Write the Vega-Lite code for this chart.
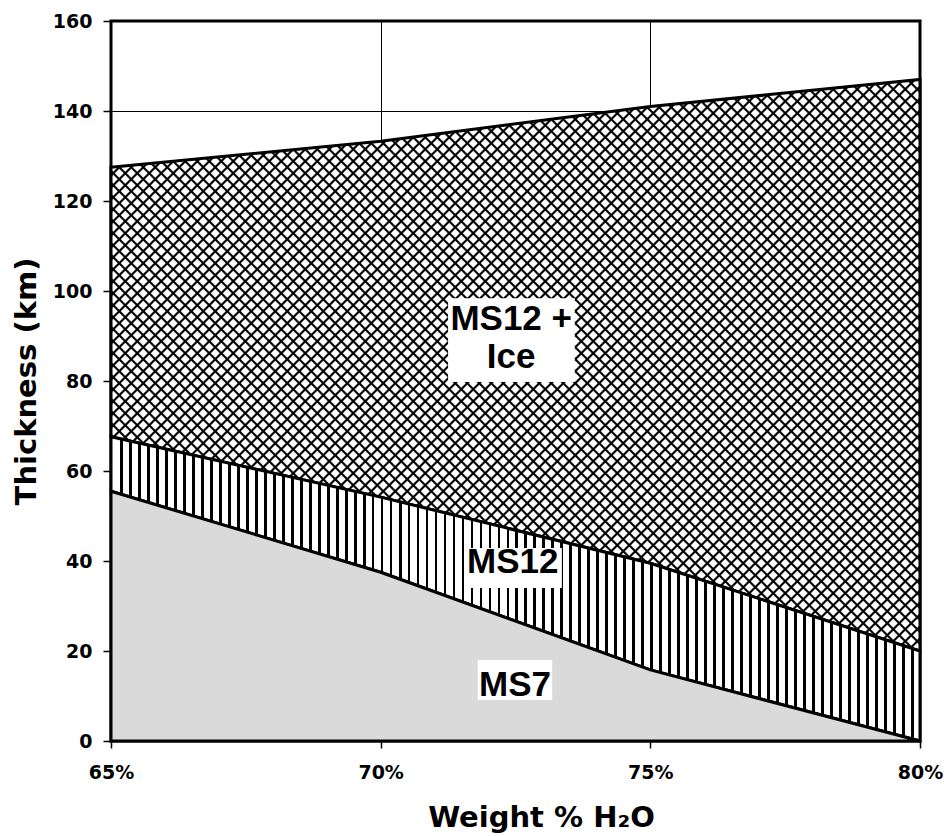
{
"$schema":"https://vega.github.io/schema/vega-lite/v6.json",
"width":809,"height":720,
"autosize":{"type":"none"},
"padding":{"left":111,"top":21,"right":24,"bottom":95},
"background":"white",
"config":{"view":{"stroke":"black","strokeWidth":3},
"axis":{"labelFont":"DejaVu Sans","labelFontSize":19,"labelFontWeight":"bold","labelColor":"black","titleFont":"DejaVu Sans","titleFontSize":29,"titleFontWeight":"bold","titleColor":"black","tickColor":"black","tickWidth":1.5,"gridColor":"black","gridWidth":1,"gridOpacity":1,"domain":false,"labelFlush":false,"labelOverlap":false,"labelBound":false}},
"datasets":{
"rows":[{"w":65,"ms7":55.5,"ms12":67.6,"total":127.5},{"w":70,"ms7":37.5,"ms12":54.2,"total":133.3},{"w":75,"ms7":15.8,"ms12":39.5,"total":141},{"w":80,"ms7":0,"ms12":20,"total":147}],
"boxes":[{"x1":71.25,"x2":73.6,"y1":79.8,"y2":98.4},{"x1":71.56,"x2":73.36,"y1":34,"y2":42.9},{"x1":71.8,"x2":73.18,"y1":9.1,"y2":18}],
"labels":[{"t":"MS12 +","x":72.42,"y":91.3},{"t":"Ice","x":72.42,"y":82.9},{"t":"MS12","x":72.45,"y":37.3},{"t":"MS7","x":72.49,"y":10}]
},
"layer":[
{"data":{"name":"rows"},
"mark":{"type":"area","strokeWidth":0,"fill":{"gradient":"linear","x1":0,"y1":0,"x2":1.2369,"y2":0.8738,"stops":[
{"offset":0.0065,"color":"#fff"},{"offset":0.0075,"color":"#000"},{"offset":0.0085,"color":"#000"},{"offset":0.0095,"color":"#fff"},
{"offset":0.0145,"color":"#fff"},{"offset":0.0155,"color":"#000"},{"offset":0.0165,"color":"#000"},{"offset":0.0175,"color":"#fff"},
{"offset":0.0225,"color":"#fff"},{"offset":0.0235,"color":"#000"},{"offset":0.0245,"color":"#000"},{"offset":0.0255,"color":"#fff"},
{"offset":0.0305,"color":"#fff"},{"offset":0.0315,"color":"#000"},{"offset":0.0325,"color":"#000"},{"offset":0.0335,"color":"#fff"},
{"offset":0.0385,"color":"#fff"},{"offset":0.0395,"color":"#000"},{"offset":0.0405,"color":"#000"},{"offset":0.0415,"color":"#fff"},
{"offset":0.0465,"color":"#fff"},{"offset":0.0475,"color":"#000"},{"offset":0.0485,"color":"#000"},{"offset":0.0495,"color":"#fff"},
{"offset":0.0545,"color":"#fff"},{"offset":0.0555,"color":"#000"},{"offset":0.0565,"color":"#000"},{"offset":0.0575,"color":"#fff"},
{"offset":0.0625,"color":"#fff"},{"offset":0.0635,"color":"#000"},{"offset":0.0645,"color":"#000"},{"offset":0.0655,"color":"#fff"},
{"offset":0.0705,"color":"#fff"},{"offset":0.0715,"color":"#000"},{"offset":0.0725,"color":"#000"},{"offset":0.0735,"color":"#fff"},
{"offset":0.0785,"color":"#fff"},{"offset":0.0795,"color":"#000"},{"offset":0.0805,"color":"#000"},{"offset":0.0815,"color":"#fff"},
{"offset":0.0865,"color":"#fff"},{"offset":0.0875,"color":"#000"},{"offset":0.0885,"color":"#000"},{"offset":0.0895,"color":"#fff"},
{"offset":0.0945,"color":"#fff"},{"offset":0.0955,"color":"#000"},{"offset":0.0965,"color":"#000"},{"offset":0.0975,"color":"#fff"},
{"offset":0.1025,"color":"#fff"},{"offset":0.1035,"color":"#000"},{"offset":0.1045,"color":"#000"},{"offset":0.1055,"color":"#fff"},
{"offset":0.1105,"color":"#fff"},{"offset":0.1115,"color":"#000"},{"offset":0.1125,"color":"#000"},{"offset":0.1135,"color":"#fff"},
{"offset":0.1185,"color":"#fff"},{"offset":0.1195,"color":"#000"},{"offset":0.1205,"color":"#000"},{"offset":0.1215,"color":"#fff"},
{"offset":0.1265,"color":"#fff"},{"offset":0.1275,"color":"#000"},{"offset":0.1285,"color":"#000"},{"offset":0.1295,"color":"#fff"},
{"offset":0.1345,"color":"#fff"},{"offset":0.1355,"color":"#000"},{"offset":0.1365,"color":"#000"},{"offset":0.1375,"color":"#fff"},
{"offset":0.1425,"color":"#fff"},{"offset":0.1435,"color":"#000"},{"offset":0.1445,"color":"#000"},{"offset":0.1455,"color":"#fff"},
{"offset":0.1505,"color":"#fff"},{"offset":0.1515,"color":"#000"},{"offset":0.1525,"color":"#000"},{"offset":0.1535,"color":"#fff"},
{"offset":0.1585,"color":"#fff"},{"offset":0.1595,"color":"#000"},{"offset":0.1605,"color":"#000"},{"offset":0.1615,"color":"#fff"},
{"offset":0.1665,"color":"#fff"},{"offset":0.1675,"color":"#000"},{"offset":0.1685,"color":"#000"},{"offset":0.1695,"color":"#fff"},
{"offset":0.1745,"color":"#fff"},{"offset":0.1755,"color":"#000"},{"offset":0.1765,"color":"#000"},{"offset":0.1775,"color":"#fff"},
{"offset":0.1825,"color":"#fff"},{"offset":0.1835,"color":"#000"},{"offset":0.1845,"color":"#000"},{"offset":0.1855,"color":"#fff"},
{"offset":0.1905,"color":"#fff"},{"offset":0.1915,"color":"#000"},{"offset":0.1925,"color":"#000"},{"offset":0.1935,"color":"#fff"},
{"offset":0.1985,"color":"#fff"},{"offset":0.1995,"color":"#000"},{"offset":0.2005,"color":"#000"},{"offset":0.2015,"color":"#fff"},
{"offset":0.2065,"color":"#fff"},{"offset":0.2075,"color":"#000"},{"offset":0.2085,"color":"#000"},{"offset":0.2095,"color":"#fff"},
{"offset":0.2145,"color":"#fff"},{"offset":0.2155,"color":"#000"},{"offset":0.2165,"color":"#000"},{"offset":0.2175,"color":"#fff"},
{"offset":0.2225,"color":"#fff"},{"offset":0.2235,"color":"#000"},{"offset":0.2245,"color":"#000"},{"offset":0.2255,"color":"#fff"},
{"offset":0.2305,"color":"#fff"},{"offset":0.2315,"color":"#000"},{"offset":0.2325,"color":"#000"},{"offset":0.2335,"color":"#fff"},
{"offset":0.2385,"color":"#fff"},{"offset":0.2395,"color":"#000"},{"offset":0.2405,"color":"#000"},{"offset":0.2415,"color":"#fff"},
{"offset":0.2465,"color":"#fff"},{"offset":0.2475,"color":"#000"},{"offset":0.2485,"color":"#000"},{"offset":0.2495,"color":"#fff"},
{"offset":0.2545,"color":"#fff"},{"offset":0.2555,"color":"#000"},{"offset":0.2565,"color":"#000"},{"offset":0.2575,"color":"#fff"},
{"offset":0.2625,"color":"#fff"},{"offset":0.2635,"color":"#000"},{"offset":0.2645,"color":"#000"},{"offset":0.2655,"color":"#fff"},
{"offset":0.2705,"color":"#fff"},{"offset":0.2715,"color":"#000"},{"offset":0.2725,"color":"#000"},{"offset":0.2735,"color":"#fff"},
{"offset":0.2785,"color":"#fff"},{"offset":0.2795,"color":"#000"},{"offset":0.2805,"color":"#000"},{"offset":0.2815,"color":"#fff"},
{"offset":0.2865,"color":"#fff"},{"offset":0.2875,"color":"#000"},{"offset":0.2885,"color":"#000"},{"offset":0.2895,"color":"#fff"},
{"offset":0.2945,"color":"#fff"},{"offset":0.2955,"color":"#000"},{"offset":0.2965,"color":"#000"},{"offset":0.2975,"color":"#fff"},
{"offset":0.3025,"color":"#fff"},{"offset":0.3035,"color":"#000"},{"offset":0.3045,"color":"#000"},{"offset":0.3055,"color":"#fff"},
{"offset":0.3105,"color":"#fff"},{"offset":0.3115,"color":"#000"},{"offset":0.3125,"color":"#000"},{"offset":0.3135,"color":"#fff"},
{"offset":0.3185,"color":"#fff"},{"offset":0.3195,"color":"#000"},{"offset":0.3205,"color":"#000"},{"offset":0.3215,"color":"#fff"},
{"offset":0.3265,"color":"#fff"},{"offset":0.3275,"color":"#000"},{"offset":0.3285,"color":"#000"},{"offset":0.3295,"color":"#fff"},
{"offset":0.3345,"color":"#fff"},{"offset":0.3355,"color":"#000"},{"offset":0.3365,"color":"#000"},{"offset":0.3375,"color":"#fff"},
{"offset":0.3425,"color":"#fff"},{"offset":0.3435,"color":"#000"},{"offset":0.3445,"color":"#000"},{"offset":0.3455,"color":"#fff"},
{"offset":0.3505,"color":"#fff"},{"offset":0.3515,"color":"#000"},{"offset":0.3525,"color":"#000"},{"offset":0.3535,"color":"#fff"},
{"offset":0.3585,"color":"#fff"},{"offset":0.3595,"color":"#000"},{"offset":0.3605,"color":"#000"},{"offset":0.3615,"color":"#fff"},
{"offset":0.3665,"color":"#fff"},{"offset":0.3675,"color":"#000"},{"offset":0.3685,"color":"#000"},{"offset":0.3695,"color":"#fff"},
{"offset":0.3745,"color":"#fff"},{"offset":0.3755,"color":"#000"},{"offset":0.3765,"color":"#000"},{"offset":0.3775,"color":"#fff"},
{"offset":0.3825,"color":"#fff"},{"offset":0.3835,"color":"#000"},{"offset":0.3845,"color":"#000"},{"offset":0.3855,"color":"#fff"},
{"offset":0.3905,"color":"#fff"},{"offset":0.3915,"color":"#000"},{"offset":0.3925,"color":"#000"},{"offset":0.3935,"color":"#fff"},
{"offset":0.3985,"color":"#fff"},{"offset":0.3995,"color":"#000"},{"offset":0.4005,"color":"#000"},{"offset":0.4015,"color":"#fff"},
{"offset":0.4065,"color":"#fff"},{"offset":0.4075,"color":"#000"},{"offset":0.4085,"color":"#000"},{"offset":0.4095,"color":"#fff"},
{"offset":0.4145,"color":"#fff"},{"offset":0.4155,"color":"#000"},{"offset":0.4165,"color":"#000"},{"offset":0.4175,"color":"#fff"},
{"offset":0.4225,"color":"#fff"},{"offset":0.4235,"color":"#000"},{"offset":0.4245,"color":"#000"},{"offset":0.4255,"color":"#fff"},
{"offset":0.4305,"color":"#fff"},{"offset":0.4315,"color":"#000"},{"offset":0.4325,"color":"#000"},{"offset":0.4335,"color":"#fff"},
{"offset":0.4385,"color":"#fff"},{"offset":0.4395,"color":"#000"},{"offset":0.4405,"color":"#000"},{"offset":0.4415,"color":"#fff"},
{"offset":0.4465,"color":"#fff"},{"offset":0.4475,"color":"#000"},{"offset":0.4485,"color":"#000"},{"offset":0.4495,"color":"#fff"},
{"offset":0.4545,"color":"#fff"},{"offset":0.4555,"color":"#000"},{"offset":0.4565,"color":"#000"},{"offset":0.4575,"color":"#fff"},
{"offset":0.4625,"color":"#fff"},{"offset":0.4635,"color":"#000"},{"offset":0.4645,"color":"#000"},{"offset":0.4655,"color":"#fff"},
{"offset":0.4705,"color":"#fff"},{"offset":0.4715,"color":"#000"},{"offset":0.4725,"color":"#000"},{"offset":0.4735,"color":"#fff"},
{"offset":0.4785,"color":"#fff"},{"offset":0.4795,"color":"#000"},{"offset":0.4805,"color":"#000"},{"offset":0.4815,"color":"#fff"},
{"offset":0.4865,"color":"#fff"},{"offset":0.4875,"color":"#000"},{"offset":0.4885,"color":"#000"},{"offset":0.4895,"color":"#fff"},
{"offset":0.4945,"color":"#fff"},{"offset":0.4955,"color":"#000"},{"offset":0.4965,"color":"#000"},{"offset":0.4975,"color":"#fff"},
{"offset":0.5025,"color":"#fff"},{"offset":0.5035,"color":"#000"},{"offset":0.5045,"color":"#000"},{"offset":0.5055,"color":"#fff"},
{"offset":0.5105,"color":"#fff"},{"offset":0.5115,"color":"#000"},{"offset":0.5125,"color":"#000"},{"offset":0.5135,"color":"#fff"},
{"offset":0.5185,"color":"#fff"},{"offset":0.5195,"color":"#000"},{"offset":0.5205,"color":"#000"},{"offset":0.5215,"color":"#fff"},
{"offset":0.5265,"color":"#fff"},{"offset":0.5275,"color":"#000"},{"offset":0.5285,"color":"#000"},{"offset":0.5295,"color":"#fff"},
{"offset":0.5345,"color":"#fff"},{"offset":0.5355,"color":"#000"},{"offset":0.5365,"color":"#000"},{"offset":0.5375,"color":"#fff"},
{"offset":0.5425,"color":"#fff"},{"offset":0.5435,"color":"#000"},{"offset":0.5445,"color":"#000"},{"offset":0.5455,"color":"#fff"},
{"offset":0.5505,"color":"#fff"},{"offset":0.5515,"color":"#000"},{"offset":0.5525,"color":"#000"},{"offset":0.5535,"color":"#fff"},
{"offset":0.5585,"color":"#fff"},{"offset":0.5595,"color":"#000"},{"offset":0.5605,"color":"#000"},{"offset":0.5615,"color":"#fff"},
{"offset":0.5665,"color":"#fff"},{"offset":0.5675,"color":"#000"},{"offset":0.5685,"color":"#000"},{"offset":0.5695,"color":"#fff"},
{"offset":0.5745,"color":"#fff"},{"offset":0.5755,"color":"#000"},{"offset":0.5765,"color":"#000"},{"offset":0.5775,"color":"#fff"},
{"offset":0.5825,"color":"#fff"},{"offset":0.5835,"color":"#000"},{"offset":0.5845,"color":"#000"},{"offset":0.5855,"color":"#fff"},
{"offset":0.5905,"color":"#fff"},{"offset":0.5915,"color":"#000"},{"offset":0.5925,"color":"#000"},{"offset":0.5935,"color":"#fff"},
{"offset":0.5985,"color":"#fff"},{"offset":0.5995,"color":"#000"},{"offset":0.6005,"color":"#000"},{"offset":0.6015,"color":"#fff"},
{"offset":0.6065,"color":"#fff"},{"offset":0.6075,"color":"#000"},{"offset":0.6085,"color":"#000"},{"offset":0.6095,"color":"#fff"},
{"offset":0.6145,"color":"#fff"},{"offset":0.6155,"color":"#000"},{"offset":0.6165,"color":"#000"},{"offset":0.6175,"color":"#fff"},
{"offset":0.6225,"color":"#fff"},{"offset":0.6235,"color":"#000"},{"offset":0.6245,"color":"#000"},{"offset":0.6255,"color":"#fff"},
{"offset":0.6305,"color":"#fff"},{"offset":0.6315,"color":"#000"},{"offset":0.6325,"color":"#000"},{"offset":0.6335,"color":"#fff"},
{"offset":0.6385,"color":"#fff"},{"offset":0.6395,"color":"#000"},{"offset":0.6405,"color":"#000"},{"offset":0.6415,"color":"#fff"},
{"offset":0.6465,"color":"#fff"},{"offset":0.6475,"color":"#000"},{"offset":0.6485,"color":"#000"},{"offset":0.6495,"color":"#fff"},
{"offset":0.6545,"color":"#fff"},{"offset":0.6555,"color":"#000"},{"offset":0.6565,"color":"#000"},{"offset":0.6575,"color":"#fff"},
{"offset":0.6625,"color":"#fff"},{"offset":0.6635,"color":"#000"},{"offset":0.6645,"color":"#000"},{"offset":0.6655,"color":"#fff"},
{"offset":0.6705,"color":"#fff"},{"offset":0.6715,"color":"#000"},{"offset":0.6725,"color":"#000"},{"offset":0.6735,"color":"#fff"},
{"offset":0.6785,"color":"#fff"},{"offset":0.6795,"color":"#000"},{"offset":0.6805,"color":"#000"},{"offset":0.6815,"color":"#fff"},
{"offset":0.6865,"color":"#fff"},{"offset":0.6875,"color":"#000"},{"offset":0.6885,"color":"#000"},{"offset":0.6895,"color":"#fff"},
{"offset":0.6945,"color":"#fff"},{"offset":0.6955,"color":"#000"},{"offset":0.6965,"color":"#000"},{"offset":0.6975,"color":"#fff"},
{"offset":0.7025,"color":"#fff"},{"offset":0.7035,"color":"#000"},{"offset":0.7045,"color":"#000"},{"offset":0.7055,"color":"#fff"},
{"offset":0.7105,"color":"#fff"},{"offset":0.7115,"color":"#000"},{"offset":0.7125,"color":"#000"},{"offset":0.7135,"color":"#fff"},
{"offset":0.7185,"color":"#fff"},{"offset":0.7195,"color":"#000"},{"offset":0.7205,"color":"#000"},{"offset":0.7215,"color":"#fff"},
{"offset":0.7265,"color":"#fff"},{"offset":0.7275,"color":"#000"},{"offset":0.7285,"color":"#000"},{"offset":0.7295,"color":"#fff"},
{"offset":0.7345,"color":"#fff"},{"offset":0.7355,"color":"#000"},{"offset":0.7365,"color":"#000"},{"offset":0.7375,"color":"#fff"},
{"offset":0.7425,"color":"#fff"},{"offset":0.7435,"color":"#000"},{"offset":0.7445,"color":"#000"},{"offset":0.7455,"color":"#fff"},
{"offset":0.7505,"color":"#fff"},{"offset":0.7515,"color":"#000"},{"offset":0.7525,"color":"#000"},{"offset":0.7535,"color":"#fff"},
{"offset":0.7585,"color":"#fff"},{"offset":0.7595,"color":"#000"},{"offset":0.7605,"color":"#000"},{"offset":0.7615,"color":"#fff"},
{"offset":0.7665,"color":"#fff"},{"offset":0.7675,"color":"#000"},{"offset":0.7685,"color":"#000"},{"offset":0.7695,"color":"#fff"},
{"offset":0.7745,"color":"#fff"},{"offset":0.7755,"color":"#000"},{"offset":0.7765,"color":"#000"},{"offset":0.7775,"color":"#fff"},
{"offset":0.7825,"color":"#fff"},{"offset":0.7835,"color":"#000"},{"offset":0.7845,"color":"#000"},{"offset":0.7855,"color":"#fff"},
{"offset":0.7905,"color":"#fff"},{"offset":0.7915,"color":"#000"},{"offset":0.7925,"color":"#000"},{"offset":0.7935,"color":"#fff"},
{"offset":0.7985,"color":"#fff"},{"offset":0.7995,"color":"#000"},{"offset":0.8005,"color":"#000"},{"offset":0.8015,"color":"#fff"},
{"offset":0.8065,"color":"#fff"},{"offset":0.8075,"color":"#000"},{"offset":0.8085,"color":"#000"},{"offset":0.8095,"color":"#fff"},
{"offset":0.8145,"color":"#fff"},{"offset":0.8155,"color":"#000"},{"offset":0.8165,"color":"#000"},{"offset":0.8175,"color":"#fff"},
{"offset":0.8225,"color":"#fff"},{"offset":0.8235,"color":"#000"},{"offset":0.8245,"color":"#000"},{"offset":0.8255,"color":"#fff"},
{"offset":0.8305,"color":"#fff"},{"offset":0.8315,"color":"#000"},{"offset":0.8325,"color":"#000"},{"offset":0.8335,"color":"#fff"},
{"offset":0.8385,"color":"#fff"},{"offset":0.8395,"color":"#000"},{"offset":0.8405,"color":"#000"},{"offset":0.8415,"color":"#fff"},
{"offset":0.8465,"color":"#fff"},{"offset":0.8475,"color":"#000"},{"offset":0.8485,"color":"#000"},{"offset":0.8495,"color":"#fff"},
{"offset":0.8545,"color":"#fff"},{"offset":0.8555,"color":"#000"},{"offset":0.8565,"color":"#000"},{"offset":0.8575,"color":"#fff"},
{"offset":0.8625,"color":"#fff"},{"offset":0.8635,"color":"#000"},{"offset":0.8645,"color":"#000"},{"offset":0.8655,"color":"#fff"},
{"offset":0.8705,"color":"#fff"},{"offset":0.8715,"color":"#000"},{"offset":0.8725,"color":"#000"},{"offset":0.8735,"color":"#fff"},
{"offset":0.8785,"color":"#fff"},{"offset":0.8795,"color":"#000"},{"offset":0.8805,"color":"#000"},{"offset":0.8815,"color":"#fff"},
{"offset":0.8865,"color":"#fff"},{"offset":0.8875,"color":"#000"},{"offset":0.8885,"color":"#000"},{"offset":0.8895,"color":"#fff"},
{"offset":0.8945,"color":"#fff"},{"offset":0.8955,"color":"#000"},{"offset":0.8965,"color":"#000"},{"offset":0.8975,"color":"#fff"},
{"offset":0.9025,"color":"#fff"},{"offset":0.9035,"color":"#000"},{"offset":0.9045,"color":"#000"},{"offset":0.9055,"color":"#fff"},
{"offset":0.9105,"color":"#fff"},{"offset":0.9115,"color":"#000"},{"offset":0.9125,"color":"#000"},{"offset":0.9135,"color":"#fff"},
{"offset":0.9185,"color":"#fff"},{"offset":0.9195,"color":"#000"},{"offset":0.9205,"color":"#000"},{"offset":0.9215,"color":"#fff"}
]}},
"encoding":{
"x":{"field":"w","type":"quantitative","scale":{"domain":[65,80],"nice":false,"zero":false},
"axis":{"values":[65,70,75,80],"labelExpr":"datum.value + '%'","title":"Weight % H₂O","grid":true,"tickSize":7,"labelPadding":15,"titleX":430,"titleY":85,"titleBaseline":"alphabetic","titleAlign":"center"}},
"y":{"field":"total","type":"quantitative","scale":{"domain":[0,160],"nice":false},
"axis":{"values":[0,20,40,60,80,100,120,140,160],"title":"Thickness (km)","grid":true,"tickSize":8,"labelPadding":11,"titleX":-76,"titleY":360,"titleAngle":-90,"titleBaseline":"alphabetic","titleAlign":"center"}},
"y2":{"field":"ms12"}}},
{"data":{"name":"rows"},
"mark":{"type":"area","stroke":"black","strokeWidth":3,"fill":{"gradient":"linear","x1":0,"y1":1,"x2":1.2369,"y2":0.1262,"stops":[
{"offset":0.0065,"color":"transparent"},{"offset":0.0075,"color":"#000"},{"offset":0.0085,"color":"#000"},{"offset":0.0095,"color":"transparent"},
{"offset":0.0145,"color":"transparent"},{"offset":0.0155,"color":"#000"},{"offset":0.0165,"color":"#000"},{"offset":0.0175,"color":"transparent"},
{"offset":0.0225,"color":"transparent"},{"offset":0.0235,"color":"#000"},{"offset":0.0245,"color":"#000"},{"offset":0.0255,"color":"transparent"},
{"offset":0.0305,"color":"transparent"},{"offset":0.0315,"color":"#000"},{"offset":0.0325,"color":"#000"},{"offset":0.0335,"color":"transparent"},
{"offset":0.0385,"color":"transparent"},{"offset":0.0395,"color":"#000"},{"offset":0.0405,"color":"#000"},{"offset":0.0415,"color":"transparent"},
{"offset":0.0465,"color":"transparent"},{"offset":0.0475,"color":"#000"},{"offset":0.0485,"color":"#000"},{"offset":0.0495,"color":"transparent"},
{"offset":0.0545,"color":"transparent"},{"offset":0.0555,"color":"#000"},{"offset":0.0565,"color":"#000"},{"offset":0.0575,"color":"transparent"},
{"offset":0.0625,"color":"transparent"},{"offset":0.0635,"color":"#000"},{"offset":0.0645,"color":"#000"},{"offset":0.0655,"color":"transparent"},
{"offset":0.0705,"color":"transparent"},{"offset":0.0715,"color":"#000"},{"offset":0.0725,"color":"#000"},{"offset":0.0735,"color":"transparent"},
{"offset":0.0785,"color":"transparent"},{"offset":0.0795,"color":"#000"},{"offset":0.0805,"color":"#000"},{"offset":0.0815,"color":"transparent"},
{"offset":0.0865,"color":"transparent"},{"offset":0.0875,"color":"#000"},{"offset":0.0885,"color":"#000"},{"offset":0.0895,"color":"transparent"},
{"offset":0.0945,"color":"transparent"},{"offset":0.0955,"color":"#000"},{"offset":0.0965,"color":"#000"},{"offset":0.0975,"color":"transparent"},
{"offset":0.1025,"color":"transparent"},{"offset":0.1035,"color":"#000"},{"offset":0.1045,"color":"#000"},{"offset":0.1055,"color":"transparent"},
{"offset":0.1105,"color":"transparent"},{"offset":0.1115,"color":"#000"},{"offset":0.1125,"color":"#000"},{"offset":0.1135,"color":"transparent"},
{"offset":0.1185,"color":"transparent"},{"offset":0.1195,"color":"#000"},{"offset":0.1205,"color":"#000"},{"offset":0.1215,"color":"transparent"},
{"offset":0.1265,"color":"transparent"},{"offset":0.1275,"color":"#000"},{"offset":0.1285,"color":"#000"},{"offset":0.1295,"color":"transparent"},
{"offset":0.1345,"color":"transparent"},{"offset":0.1355,"color":"#000"},{"offset":0.1365,"color":"#000"},{"offset":0.1375,"color":"transparent"},
{"offset":0.1425,"color":"transparent"},{"offset":0.1435,"color":"#000"},{"offset":0.1445,"color":"#000"},{"offset":0.1455,"color":"transparent"},
{"offset":0.1505,"color":"transparent"},{"offset":0.1515,"color":"#000"},{"offset":0.1525,"color":"#000"},{"offset":0.1535,"color":"transparent"},
{"offset":0.1585,"color":"transparent"},{"offset":0.1595,"color":"#000"},{"offset":0.1605,"color":"#000"},{"offset":0.1615,"color":"transparent"},
{"offset":0.1665,"color":"transparent"},{"offset":0.1675,"color":"#000"},{"offset":0.1685,"color":"#000"},{"offset":0.1695,"color":"transparent"},
{"offset":0.1745,"color":"transparent"},{"offset":0.1755,"color":"#000"},{"offset":0.1765,"color":"#000"},{"offset":0.1775,"color":"transparent"},
{"offset":0.1825,"color":"transparent"},{"offset":0.1835,"color":"#000"},{"offset":0.1845,"color":"#000"},{"offset":0.1855,"color":"transparent"},
{"offset":0.1905,"color":"transparent"},{"offset":0.1915,"color":"#000"},{"offset":0.1925,"color":"#000"},{"offset":0.1935,"color":"transparent"},
{"offset":0.1985,"color":"transparent"},{"offset":0.1995,"color":"#000"},{"offset":0.2005,"color":"#000"},{"offset":0.2015,"color":"transparent"},
{"offset":0.2065,"color":"transparent"},{"offset":0.2075,"color":"#000"},{"offset":0.2085,"color":"#000"},{"offset":0.2095,"color":"transparent"},
{"offset":0.2145,"color":"transparent"},{"offset":0.2155,"color":"#000"},{"offset":0.2165,"color":"#000"},{"offset":0.2175,"color":"transparent"},
{"offset":0.2225,"color":"transparent"},{"offset":0.2235,"color":"#000"},{"offset":0.2245,"color":"#000"},{"offset":0.2255,"color":"transparent"},
{"offset":0.2305,"color":"transparent"},{"offset":0.2315,"color":"#000"},{"offset":0.2325,"color":"#000"},{"offset":0.2335,"color":"transparent"},
{"offset":0.2385,"color":"transparent"},{"offset":0.2395,"color":"#000"},{"offset":0.2405,"color":"#000"},{"offset":0.2415,"color":"transparent"},
{"offset":0.2465,"color":"transparent"},{"offset":0.2475,"color":"#000"},{"offset":0.2485,"color":"#000"},{"offset":0.2495,"color":"transparent"},
{"offset":0.2545,"color":"transparent"},{"offset":0.2555,"color":"#000"},{"offset":0.2565,"color":"#000"},{"offset":0.2575,"color":"transparent"},
{"offset":0.2625,"color":"transparent"},{"offset":0.2635,"color":"#000"},{"offset":0.2645,"color":"#000"},{"offset":0.2655,"color":"transparent"},
{"offset":0.2705,"color":"transparent"},{"offset":0.2715,"color":"#000"},{"offset":0.2725,"color":"#000"},{"offset":0.2735,"color":"transparent"},
{"offset":0.2785,"color":"transparent"},{"offset":0.2795,"color":"#000"},{"offset":0.2805,"color":"#000"},{"offset":0.2815,"color":"transparent"},
{"offset":0.2865,"color":"transparent"},{"offset":0.2875,"color":"#000"},{"offset":0.2885,"color":"#000"},{"offset":0.2895,"color":"transparent"},
{"offset":0.2945,"color":"transparent"},{"offset":0.2955,"color":"#000"},{"offset":0.2965,"color":"#000"},{"offset":0.2975,"color":"transparent"},
{"offset":0.3025,"color":"transparent"},{"offset":0.3035,"color":"#000"},{"offset":0.3045,"color":"#000"},{"offset":0.3055,"color":"transparent"},
{"offset":0.3105,"color":"transparent"},{"offset":0.3115,"color":"#000"},{"offset":0.3125,"color":"#000"},{"offset":0.3135,"color":"transparent"},
{"offset":0.3185,"color":"transparent"},{"offset":0.3195,"color":"#000"},{"offset":0.3205,"color":"#000"},{"offset":0.3215,"color":"transparent"},
{"offset":0.3265,"color":"transparent"},{"offset":0.3275,"color":"#000"},{"offset":0.3285,"color":"#000"},{"offset":0.3295,"color":"transparent"},
{"offset":0.3345,"color":"transparent"},{"offset":0.3355,"color":"#000"},{"offset":0.3365,"color":"#000"},{"offset":0.3375,"color":"transparent"},
{"offset":0.3425,"color":"transparent"},{"offset":0.3435,"color":"#000"},{"offset":0.3445,"color":"#000"},{"offset":0.3455,"color":"transparent"},
{"offset":0.3505,"color":"transparent"},{"offset":0.3515,"color":"#000"},{"offset":0.3525,"color":"#000"},{"offset":0.3535,"color":"transparent"},
{"offset":0.3585,"color":"transparent"},{"offset":0.3595,"color":"#000"},{"offset":0.3605,"color":"#000"},{"offset":0.3615,"color":"transparent"},
{"offset":0.3665,"color":"transparent"},{"offset":0.3675,"color":"#000"},{"offset":0.3685,"color":"#000"},{"offset":0.3695,"color":"transparent"},
{"offset":0.3745,"color":"transparent"},{"offset":0.3755,"color":"#000"},{"offset":0.3765,"color":"#000"},{"offset":0.3775,"color":"transparent"},
{"offset":0.3825,"color":"transparent"},{"offset":0.3835,"color":"#000"},{"offset":0.3845,"color":"#000"},{"offset":0.3855,"color":"transparent"},
{"offset":0.3905,"color":"transparent"},{"offset":0.3915,"color":"#000"},{"offset":0.3925,"color":"#000"},{"offset":0.3935,"color":"transparent"},
{"offset":0.3985,"color":"transparent"},{"offset":0.3995,"color":"#000"},{"offset":0.4005,"color":"#000"},{"offset":0.4015,"color":"transparent"},
{"offset":0.4065,"color":"transparent"},{"offset":0.4075,"color":"#000"},{"offset":0.4085,"color":"#000"},{"offset":0.4095,"color":"transparent"},
{"offset":0.4145,"color":"transparent"},{"offset":0.4155,"color":"#000"},{"offset":0.4165,"color":"#000"},{"offset":0.4175,"color":"transparent"},
{"offset":0.4225,"color":"transparent"},{"offset":0.4235,"color":"#000"},{"offset":0.4245,"color":"#000"},{"offset":0.4255,"color":"transparent"},
{"offset":0.4305,"color":"transparent"},{"offset":0.4315,"color":"#000"},{"offset":0.4325,"color":"#000"},{"offset":0.4335,"color":"transparent"},
{"offset":0.4385,"color":"transparent"},{"offset":0.4395,"color":"#000"},{"offset":0.4405,"color":"#000"},{"offset":0.4415,"color":"transparent"},
{"offset":0.4465,"color":"transparent"},{"offset":0.4475,"color":"#000"},{"offset":0.4485,"color":"#000"},{"offset":0.4495,"color":"transparent"},
{"offset":0.4545,"color":"transparent"},{"offset":0.4555,"color":"#000"},{"offset":0.4565,"color":"#000"},{"offset":0.4575,"color":"transparent"},
{"offset":0.4625,"color":"transparent"},{"offset":0.4635,"color":"#000"},{"offset":0.4645,"color":"#000"},{"offset":0.4655,"color":"transparent"},
{"offset":0.4705,"color":"transparent"},{"offset":0.4715,"color":"#000"},{"offset":0.4725,"color":"#000"},{"offset":0.4735,"color":"transparent"},
{"offset":0.4785,"color":"transparent"},{"offset":0.4795,"color":"#000"},{"offset":0.4805,"color":"#000"},{"offset":0.4815,"color":"transparent"},
{"offset":0.4865,"color":"transparent"},{"offset":0.4875,"color":"#000"},{"offset":0.4885,"color":"#000"},{"offset":0.4895,"color":"transparent"},
{"offset":0.4945,"color":"transparent"},{"offset":0.4955,"color":"#000"},{"offset":0.4965,"color":"#000"},{"offset":0.4975,"color":"transparent"},
{"offset":0.5025,"color":"transparent"},{"offset":0.5035,"color":"#000"},{"offset":0.5045,"color":"#000"},{"offset":0.5055,"color":"transparent"},
{"offset":0.5105,"color":"transparent"},{"offset":0.5115,"color":"#000"},{"offset":0.5125,"color":"#000"},{"offset":0.5135,"color":"transparent"},
{"offset":0.5185,"color":"transparent"},{"offset":0.5195,"color":"#000"},{"offset":0.5205,"color":"#000"},{"offset":0.5215,"color":"transparent"},
{"offset":0.5265,"color":"transparent"},{"offset":0.5275,"color":"#000"},{"offset":0.5285,"color":"#000"},{"offset":0.5295,"color":"transparent"},
{"offset":0.5345,"color":"transparent"},{"offset":0.5355,"color":"#000"},{"offset":0.5365,"color":"#000"},{"offset":0.5375,"color":"transparent"},
{"offset":0.5425,"color":"transparent"},{"offset":0.5435,"color":"#000"},{"offset":0.5445,"color":"#000"},{"offset":0.5455,"color":"transparent"},
{"offset":0.5505,"color":"transparent"},{"offset":0.5515,"color":"#000"},{"offset":0.5525,"color":"#000"},{"offset":0.5535,"color":"transparent"},
{"offset":0.5585,"color":"transparent"},{"offset":0.5595,"color":"#000"},{"offset":0.5605,"color":"#000"},{"offset":0.5615,"color":"transparent"},
{"offset":0.5665,"color":"transparent"},{"offset":0.5675,"color":"#000"},{"offset":0.5685,"color":"#000"},{"offset":0.5695,"color":"transparent"},
{"offset":0.5745,"color":"transparent"},{"offset":0.5755,"color":"#000"},{"offset":0.5765,"color":"#000"},{"offset":0.5775,"color":"transparent"},
{"offset":0.5825,"color":"transparent"},{"offset":0.5835,"color":"#000"},{"offset":0.5845,"color":"#000"},{"offset":0.5855,"color":"transparent"},
{"offset":0.5905,"color":"transparent"},{"offset":0.5915,"color":"#000"},{"offset":0.5925,"color":"#000"},{"offset":0.5935,"color":"transparent"},
{"offset":0.5985,"color":"transparent"},{"offset":0.5995,"color":"#000"},{"offset":0.6005,"color":"#000"},{"offset":0.6015,"color":"transparent"},
{"offset":0.6065,"color":"transparent"},{"offset":0.6075,"color":"#000"},{"offset":0.6085,"color":"#000"},{"offset":0.6095,"color":"transparent"},
{"offset":0.6145,"color":"transparent"},{"offset":0.6155,"color":"#000"},{"offset":0.6165,"color":"#000"},{"offset":0.6175,"color":"transparent"},
{"offset":0.6225,"color":"transparent"},{"offset":0.6235,"color":"#000"},{"offset":0.6245,"color":"#000"},{"offset":0.6255,"color":"transparent"},
{"offset":0.6305,"color":"transparent"},{"offset":0.6315,"color":"#000"},{"offset":0.6325,"color":"#000"},{"offset":0.6335,"color":"transparent"},
{"offset":0.6385,"color":"transparent"},{"offset":0.6395,"color":"#000"},{"offset":0.6405,"color":"#000"},{"offset":0.6415,"color":"transparent"},
{"offset":0.6465,"color":"transparent"},{"offset":0.6475,"color":"#000"},{"offset":0.6485,"color":"#000"},{"offset":0.6495,"color":"transparent"},
{"offset":0.6545,"color":"transparent"},{"offset":0.6555,"color":"#000"},{"offset":0.6565,"color":"#000"},{"offset":0.6575,"color":"transparent"},
{"offset":0.6625,"color":"transparent"},{"offset":0.6635,"color":"#000"},{"offset":0.6645,"color":"#000"},{"offset":0.6655,"color":"transparent"},
{"offset":0.6705,"color":"transparent"},{"offset":0.6715,"color":"#000"},{"offset":0.6725,"color":"#000"},{"offset":0.6735,"color":"transparent"},
{"offset":0.6785,"color":"transparent"},{"offset":0.6795,"color":"#000"},{"offset":0.6805,"color":"#000"},{"offset":0.6815,"color":"transparent"},
{"offset":0.6865,"color":"transparent"},{"offset":0.6875,"color":"#000"},{"offset":0.6885,"color":"#000"},{"offset":0.6895,"color":"transparent"},
{"offset":0.6945,"color":"transparent"},{"offset":0.6955,"color":"#000"},{"offset":0.6965,"color":"#000"},{"offset":0.6975,"color":"transparent"},
{"offset":0.7025,"color":"transparent"},{"offset":0.7035,"color":"#000"},{"offset":0.7045,"color":"#000"},{"offset":0.7055,"color":"transparent"},
{"offset":0.7105,"color":"transparent"},{"offset":0.7115,"color":"#000"},{"offset":0.7125,"color":"#000"},{"offset":0.7135,"color":"transparent"},
{"offset":0.7185,"color":"transparent"},{"offset":0.7195,"color":"#000"},{"offset":0.7205,"color":"#000"},{"offset":0.7215,"color":"transparent"},
{"offset":0.7265,"color":"transparent"},{"offset":0.7275,"color":"#000"},{"offset":0.7285,"color":"#000"},{"offset":0.7295,"color":"transparent"},
{"offset":0.7345,"color":"transparent"},{"offset":0.7355,"color":"#000"},{"offset":0.7365,"color":"#000"},{"offset":0.7375,"color":"transparent"},
{"offset":0.7425,"color":"transparent"},{"offset":0.7435,"color":"#000"},{"offset":0.7445,"color":"#000"},{"offset":0.7455,"color":"transparent"},
{"offset":0.7505,"color":"transparent"},{"offset":0.7515,"color":"#000"},{"offset":0.7525,"color":"#000"},{"offset":0.7535,"color":"transparent"},
{"offset":0.7585,"color":"transparent"},{"offset":0.7595,"color":"#000"},{"offset":0.7605,"color":"#000"},{"offset":0.7615,"color":"transparent"},
{"offset":0.7665,"color":"transparent"},{"offset":0.7675,"color":"#000"},{"offset":0.7685,"color":"#000"},{"offset":0.7695,"color":"transparent"},
{"offset":0.7745,"color":"transparent"},{"offset":0.7755,"color":"#000"},{"offset":0.7765,"color":"#000"},{"offset":0.7775,"color":"transparent"},
{"offset":0.7825,"color":"transparent"},{"offset":0.7835,"color":"#000"},{"offset":0.7845,"color":"#000"},{"offset":0.7855,"color":"transparent"},
{"offset":0.7905,"color":"transparent"},{"offset":0.7915,"color":"#000"},{"offset":0.7925,"color":"#000"},{"offset":0.7935,"color":"transparent"},
{"offset":0.7985,"color":"transparent"},{"offset":0.7995,"color":"#000"},{"offset":0.8005,"color":"#000"},{"offset":0.8015,"color":"transparent"},
{"offset":0.8065,"color":"transparent"},{"offset":0.8075,"color":"#000"},{"offset":0.8085,"color":"#000"},{"offset":0.8095,"color":"transparent"},
{"offset":0.8145,"color":"transparent"},{"offset":0.8155,"color":"#000"},{"offset":0.8165,"color":"#000"},{"offset":0.8175,"color":"transparent"},
{"offset":0.8225,"color":"transparent"},{"offset":0.8235,"color":"#000"},{"offset":0.8245,"color":"#000"},{"offset":0.8255,"color":"transparent"},
{"offset":0.8305,"color":"transparent"},{"offset":0.8315,"color":"#000"},{"offset":0.8325,"color":"#000"},{"offset":0.8335,"color":"transparent"},
{"offset":0.8385,"color":"transparent"},{"offset":0.8395,"color":"#000"},{"offset":0.8405,"color":"#000"},{"offset":0.8415,"color":"transparent"},
{"offset":0.8465,"color":"transparent"},{"offset":0.8475,"color":"#000"},{"offset":0.8485,"color":"#000"},{"offset":0.8495,"color":"transparent"},
{"offset":0.8545,"color":"transparent"},{"offset":0.8555,"color":"#000"},{"offset":0.8565,"color":"#000"},{"offset":0.8575,"color":"transparent"},
{"offset":0.8625,"color":"transparent"},{"offset":0.8635,"color":"#000"},{"offset":0.8645,"color":"#000"},{"offset":0.8655,"color":"transparent"},
{"offset":0.8705,"color":"transparent"},{"offset":0.8715,"color":"#000"},{"offset":0.8725,"color":"#000"},{"offset":0.8735,"color":"transparent"},
{"offset":0.8785,"color":"transparent"},{"offset":0.8795,"color":"#000"},{"offset":0.8805,"color":"#000"},{"offset":0.8815,"color":"transparent"},
{"offset":0.8865,"color":"transparent"},{"offset":0.8875,"color":"#000"},{"offset":0.8885,"color":"#000"},{"offset":0.8895,"color":"transparent"},
{"offset":0.8945,"color":"transparent"},{"offset":0.8955,"color":"#000"},{"offset":0.8965,"color":"#000"},{"offset":0.8975,"color":"transparent"},
{"offset":0.9025,"color":"transparent"},{"offset":0.9035,"color":"#000"},{"offset":0.9045,"color":"#000"},{"offset":0.9055,"color":"transparent"},
{"offset":0.9105,"color":"transparent"},{"offset":0.9115,"color":"#000"},{"offset":0.9125,"color":"#000"},{"offset":0.9135,"color":"transparent"},
{"offset":0.9185,"color":"transparent"},{"offset":0.9195,"color":"#000"},{"offset":0.9205,"color":"#000"},{"offset":0.9215,"color":"transparent"}
]}},
"encoding":{
"x":{"field":"w","type":"quantitative","scale":{"domain":[65,80],"nice":false,"zero":false}},
"y":{"field":"total","type":"quantitative","scale":{"domain":[0,160],"nice":false}},
"y2":{"field":"ms12"}}},
{"data":{"name":"rows"},
"mark":{"type":"area","stroke":"black","strokeWidth":3,"fill":{"gradient":"linear","x1":0,"y1":0,"x2":1,"y2":0,"stops":[
{"offset":0.0111,"color":"#fff"},{"offset":0.0111,"color":"#000"},{"offset":0.0146,"color":"#000"},{"offset":0.0146,"color":"#fff"},
{"offset":0.0222,"color":"#fff"},{"offset":0.0222,"color":"#000"},{"offset":0.0257,"color":"#000"},{"offset":0.0257,"color":"#fff"},
{"offset":0.0333,"color":"#fff"},{"offset":0.0333,"color":"#000"},{"offset":0.0368,"color":"#000"},{"offset":0.0368,"color":"#fff"},
{"offset":0.0444,"color":"#fff"},{"offset":0.0444,"color":"#000"},{"offset":0.0479,"color":"#000"},{"offset":0.0479,"color":"#fff"},
{"offset":0.0556,"color":"#fff"},{"offset":0.0556,"color":"#000"},{"offset":0.0591,"color":"#000"},{"offset":0.0591,"color":"#fff"},
{"offset":0.0667,"color":"#fff"},{"offset":0.0667,"color":"#000"},{"offset":0.0702,"color":"#000"},{"offset":0.0702,"color":"#fff"},
{"offset":0.0778,"color":"#fff"},{"offset":0.0778,"color":"#000"},{"offset":0.0813,"color":"#000"},{"offset":0.0813,"color":"#fff"},
{"offset":0.0889,"color":"#fff"},{"offset":0.0889,"color":"#000"},{"offset":0.0924,"color":"#000"},{"offset":0.0924,"color":"#fff"},
{"offset":0.1,"color":"#fff"},{"offset":0.1,"color":"#000"},{"offset":0.1035,"color":"#000"},{"offset":0.1035,"color":"#fff"},
{"offset":0.1111,"color":"#fff"},{"offset":0.1111,"color":"#000"},{"offset":0.1146,"color":"#000"},{"offset":0.1146,"color":"#fff"},
{"offset":0.1222,"color":"#fff"},{"offset":0.1222,"color":"#000"},{"offset":0.1257,"color":"#000"},{"offset":0.1257,"color":"#fff"},
{"offset":0.1333,"color":"#fff"},{"offset":0.1333,"color":"#000"},{"offset":0.1368,"color":"#000"},{"offset":0.1368,"color":"#fff"},
{"offset":0.1444,"color":"#fff"},{"offset":0.1444,"color":"#000"},{"offset":0.1479,"color":"#000"},{"offset":0.1479,"color":"#fff"},
{"offset":0.1556,"color":"#fff"},{"offset":0.1556,"color":"#000"},{"offset":0.1591,"color":"#000"},{"offset":0.1591,"color":"#fff"},
{"offset":0.1667,"color":"#fff"},{"offset":0.1667,"color":"#000"},{"offset":0.1702,"color":"#000"},{"offset":0.1702,"color":"#fff"},
{"offset":0.1778,"color":"#fff"},{"offset":0.1778,"color":"#000"},{"offset":0.1813,"color":"#000"},{"offset":0.1813,"color":"#fff"},
{"offset":0.1889,"color":"#fff"},{"offset":0.1889,"color":"#000"},{"offset":0.1924,"color":"#000"},{"offset":0.1924,"color":"#fff"},
{"offset":0.2,"color":"#fff"},{"offset":0.2,"color":"#000"},{"offset":0.2035,"color":"#000"},{"offset":0.2035,"color":"#fff"},
{"offset":0.2111,"color":"#fff"},{"offset":0.2111,"color":"#000"},{"offset":0.2146,"color":"#000"},{"offset":0.2146,"color":"#fff"},
{"offset":0.2222,"color":"#fff"},{"offset":0.2222,"color":"#000"},{"offset":0.2257,"color":"#000"},{"offset":0.2257,"color":"#fff"},
{"offset":0.2333,"color":"#fff"},{"offset":0.2333,"color":"#000"},{"offset":0.2368,"color":"#000"},{"offset":0.2368,"color":"#fff"},
{"offset":0.2444,"color":"#fff"},{"offset":0.2444,"color":"#000"},{"offset":0.2479,"color":"#000"},{"offset":0.2479,"color":"#fff"},
{"offset":0.2556,"color":"#fff"},{"offset":0.2556,"color":"#000"},{"offset":0.2591,"color":"#000"},{"offset":0.2591,"color":"#fff"},
{"offset":0.2667,"color":"#fff"},{"offset":0.2667,"color":"#000"},{"offset":0.2702,"color":"#000"},{"offset":0.2702,"color":"#fff"},
{"offset":0.2778,"color":"#fff"},{"offset":0.2778,"color":"#000"},{"offset":0.2813,"color":"#000"},{"offset":0.2813,"color":"#fff"},
{"offset":0.2889,"color":"#fff"},{"offset":0.2889,"color":"#000"},{"offset":0.2924,"color":"#000"},{"offset":0.2924,"color":"#fff"},
{"offset":0.3,"color":"#fff"},{"offset":0.3,"color":"#000"},{"offset":0.3035,"color":"#000"},{"offset":0.3035,"color":"#fff"},
{"offset":0.3111,"color":"#fff"},{"offset":0.3111,"color":"#000"},{"offset":0.3146,"color":"#000"},{"offset":0.3146,"color":"#fff"},
{"offset":0.3222,"color":"#fff"},{"offset":0.3222,"color":"#000"},{"offset":0.3257,"color":"#000"},{"offset":0.3257,"color":"#fff"},
{"offset":0.3333,"color":"#fff"},{"offset":0.3333,"color":"#000"},{"offset":0.3368,"color":"#000"},{"offset":0.3368,"color":"#fff"},
{"offset":0.3444,"color":"#fff"},{"offset":0.3444,"color":"#000"},{"offset":0.3479,"color":"#000"},{"offset":0.3479,"color":"#fff"},
{"offset":0.3556,"color":"#fff"},{"offset":0.3556,"color":"#000"},{"offset":0.3591,"color":"#000"},{"offset":0.3591,"color":"#fff"},
{"offset":0.3667,"color":"#fff"},{"offset":0.3667,"color":"#000"},{"offset":0.3702,"color":"#000"},{"offset":0.3702,"color":"#fff"},
{"offset":0.3778,"color":"#fff"},{"offset":0.3778,"color":"#000"},{"offset":0.3813,"color":"#000"},{"offset":0.3813,"color":"#fff"},
{"offset":0.3889,"color":"#fff"},{"offset":0.3889,"color":"#000"},{"offset":0.3924,"color":"#000"},{"offset":0.3924,"color":"#fff"},
{"offset":0.4,"color":"#fff"},{"offset":0.4,"color":"#000"},{"offset":0.4035,"color":"#000"},{"offset":0.4035,"color":"#fff"},
{"offset":0.4111,"color":"#fff"},{"offset":0.4111,"color":"#000"},{"offset":0.4146,"color":"#000"},{"offset":0.4146,"color":"#fff"},
{"offset":0.4222,"color":"#fff"},{"offset":0.4222,"color":"#000"},{"offset":0.4257,"color":"#000"},{"offset":0.4257,"color":"#fff"},
{"offset":0.4333,"color":"#fff"},{"offset":0.4333,"color":"#000"},{"offset":0.4368,"color":"#000"},{"offset":0.4368,"color":"#fff"},
{"offset":0.4444,"color":"#fff"},{"offset":0.4444,"color":"#000"},{"offset":0.4479,"color":"#000"},{"offset":0.4479,"color":"#fff"},
{"offset":0.4556,"color":"#fff"},{"offset":0.4556,"color":"#000"},{"offset":0.4591,"color":"#000"},{"offset":0.4591,"color":"#fff"},
{"offset":0.4667,"color":"#fff"},{"offset":0.4667,"color":"#000"},{"offset":0.4702,"color":"#000"},{"offset":0.4702,"color":"#fff"},
{"offset":0.4778,"color":"#fff"},{"offset":0.4778,"color":"#000"},{"offset":0.4813,"color":"#000"},{"offset":0.4813,"color":"#fff"},
{"offset":0.4889,"color":"#fff"},{"offset":0.4889,"color":"#000"},{"offset":0.4924,"color":"#000"},{"offset":0.4924,"color":"#fff"},
{"offset":0.5,"color":"#fff"},{"offset":0.5,"color":"#000"},{"offset":0.5035,"color":"#000"},{"offset":0.5035,"color":"#fff"},
{"offset":0.5111,"color":"#fff"},{"offset":0.5111,"color":"#000"},{"offset":0.5146,"color":"#000"},{"offset":0.5146,"color":"#fff"},
{"offset":0.5222,"color":"#fff"},{"offset":0.5222,"color":"#000"},{"offset":0.5257,"color":"#000"},{"offset":0.5257,"color":"#fff"},
{"offset":0.5333,"color":"#fff"},{"offset":0.5333,"color":"#000"},{"offset":0.5368,"color":"#000"},{"offset":0.5368,"color":"#fff"},
{"offset":0.5444,"color":"#fff"},{"offset":0.5444,"color":"#000"},{"offset":0.5479,"color":"#000"},{"offset":0.5479,"color":"#fff"},
{"offset":0.5556,"color":"#fff"},{"offset":0.5556,"color":"#000"},{"offset":0.5591,"color":"#000"},{"offset":0.5591,"color":"#fff"},
{"offset":0.5667,"color":"#fff"},{"offset":0.5667,"color":"#000"},{"offset":0.5702,"color":"#000"},{"offset":0.5702,"color":"#fff"},
{"offset":0.5778,"color":"#fff"},{"offset":0.5778,"color":"#000"},{"offset":0.5813,"color":"#000"},{"offset":0.5813,"color":"#fff"},
{"offset":0.5889,"color":"#fff"},{"offset":0.5889,"color":"#000"},{"offset":0.5924,"color":"#000"},{"offset":0.5924,"color":"#fff"},
{"offset":0.6,"color":"#fff"},{"offset":0.6,"color":"#000"},{"offset":0.6035,"color":"#000"},{"offset":0.6035,"color":"#fff"},
{"offset":0.6111,"color":"#fff"},{"offset":0.6111,"color":"#000"},{"offset":0.6146,"color":"#000"},{"offset":0.6146,"color":"#fff"},
{"offset":0.6222,"color":"#fff"},{"offset":0.6222,"color":"#000"},{"offset":0.6257,"color":"#000"},{"offset":0.6257,"color":"#fff"},
{"offset":0.6333,"color":"#fff"},{"offset":0.6333,"color":"#000"},{"offset":0.6368,"color":"#000"},{"offset":0.6368,"color":"#fff"},
{"offset":0.6444,"color":"#fff"},{"offset":0.6444,"color":"#000"},{"offset":0.6479,"color":"#000"},{"offset":0.6479,"color":"#fff"},
{"offset":0.6556,"color":"#fff"},{"offset":0.6556,"color":"#000"},{"offset":0.6591,"color":"#000"},{"offset":0.6591,"color":"#fff"},
{"offset":0.6667,"color":"#fff"},{"offset":0.6667,"color":"#000"},{"offset":0.6702,"color":"#000"},{"offset":0.6702,"color":"#fff"},
{"offset":0.6778,"color":"#fff"},{"offset":0.6778,"color":"#000"},{"offset":0.6813,"color":"#000"},{"offset":0.6813,"color":"#fff"},
{"offset":0.6889,"color":"#fff"},{"offset":0.6889,"color":"#000"},{"offset":0.6924,"color":"#000"},{"offset":0.6924,"color":"#fff"},
{"offset":0.7,"color":"#fff"},{"offset":0.7,"color":"#000"},{"offset":0.7035,"color":"#000"},{"offset":0.7035,"color":"#fff"},
{"offset":0.7111,"color":"#fff"},{"offset":0.7111,"color":"#000"},{"offset":0.7146,"color":"#000"},{"offset":0.7146,"color":"#fff"},
{"offset":0.7222,"color":"#fff"},{"offset":0.7222,"color":"#000"},{"offset":0.7257,"color":"#000"},{"offset":0.7257,"color":"#fff"},
{"offset":0.7333,"color":"#fff"},{"offset":0.7333,"color":"#000"},{"offset":0.7368,"color":"#000"},{"offset":0.7368,"color":"#fff"},
{"offset":0.7444,"color":"#fff"},{"offset":0.7444,"color":"#000"},{"offset":0.7479,"color":"#000"},{"offset":0.7479,"color":"#fff"},
{"offset":0.7556,"color":"#fff"},{"offset":0.7556,"color":"#000"},{"offset":0.7591,"color":"#000"},{"offset":0.7591,"color":"#fff"},
{"offset":0.7667,"color":"#fff"},{"offset":0.7667,"color":"#000"},{"offset":0.7702,"color":"#000"},{"offset":0.7702,"color":"#fff"},
{"offset":0.7778,"color":"#fff"},{"offset":0.7778,"color":"#000"},{"offset":0.7813,"color":"#000"},{"offset":0.7813,"color":"#fff"},
{"offset":0.7889,"color":"#fff"},{"offset":0.7889,"color":"#000"},{"offset":0.7924,"color":"#000"},{"offset":0.7924,"color":"#fff"},
{"offset":0.8,"color":"#fff"},{"offset":0.8,"color":"#000"},{"offset":0.8035,"color":"#000"},{"offset":0.8035,"color":"#fff"},
{"offset":0.8111,"color":"#fff"},{"offset":0.8111,"color":"#000"},{"offset":0.8146,"color":"#000"},{"offset":0.8146,"color":"#fff"},
{"offset":0.8222,"color":"#fff"},{"offset":0.8222,"color":"#000"},{"offset":0.8257,"color":"#000"},{"offset":0.8257,"color":"#fff"},
{"offset":0.8333,"color":"#fff"},{"offset":0.8333,"color":"#000"},{"offset":0.8368,"color":"#000"},{"offset":0.8368,"color":"#fff"},
{"offset":0.8444,"color":"#fff"},{"offset":0.8444,"color":"#000"},{"offset":0.8479,"color":"#000"},{"offset":0.8479,"color":"#fff"},
{"offset":0.8556,"color":"#fff"},{"offset":0.8556,"color":"#000"},{"offset":0.8591,"color":"#000"},{"offset":0.8591,"color":"#fff"},
{"offset":0.8667,"color":"#fff"},{"offset":0.8667,"color":"#000"},{"offset":0.8702,"color":"#000"},{"offset":0.8702,"color":"#fff"},
{"offset":0.8778,"color":"#fff"},{"offset":0.8778,"color":"#000"},{"offset":0.8813,"color":"#000"},{"offset":0.8813,"color":"#fff"},
{"offset":0.8889,"color":"#fff"},{"offset":0.8889,"color":"#000"},{"offset":0.8924,"color":"#000"},{"offset":0.8924,"color":"#fff"},
{"offset":0.9,"color":"#fff"},{"offset":0.9,"color":"#000"},{"offset":0.9035,"color":"#000"},{"offset":0.9035,"color":"#fff"},
{"offset":0.9111,"color":"#fff"},{"offset":0.9111,"color":"#000"},{"offset":0.9146,"color":"#000"},{"offset":0.9146,"color":"#fff"},
{"offset":0.9222,"color":"#fff"},{"offset":0.9222,"color":"#000"},{"offset":0.9257,"color":"#000"},{"offset":0.9257,"color":"#fff"},
{"offset":0.9333,"color":"#fff"},{"offset":0.9333,"color":"#000"},{"offset":0.9368,"color":"#000"},{"offset":0.9368,"color":"#fff"},
{"offset":0.9444,"color":"#fff"},{"offset":0.9444,"color":"#000"},{"offset":0.9479,"color":"#000"},{"offset":0.9479,"color":"#fff"},
{"offset":0.9556,"color":"#fff"},{"offset":0.9556,"color":"#000"},{"offset":0.9591,"color":"#000"},{"offset":0.9591,"color":"#fff"},
{"offset":0.9667,"color":"#fff"},{"offset":0.9667,"color":"#000"},{"offset":0.9702,"color":"#000"},{"offset":0.9702,"color":"#fff"},
{"offset":0.9778,"color":"#fff"},{"offset":0.9778,"color":"#000"},{"offset":0.9813,"color":"#000"},{"offset":0.9813,"color":"#fff"},
{"offset":0.9889,"color":"#fff"},{"offset":0.9889,"color":"#000"},{"offset":0.9924,"color":"#000"},{"offset":0.9924,"color":"#fff"}
]}},
"encoding":{
"x":{"field":"w","type":"quantitative","scale":{"domain":[65,80],"nice":false,"zero":false}},
"y":{"field":"ms12","type":"quantitative","scale":{"domain":[0,160],"nice":false}},
"y2":{"field":"ms7"}}},
{"data":{"name":"rows"},
"mark":{"type":"area","fill":"#dadada","stroke":"black","strokeWidth":3},
"encoding":{
"x":{"field":"w","type":"quantitative","scale":{"domain":[65,80],"nice":false,"zero":false}},
"y":{"field":"ms7","type":"quantitative","scale":{"domain":[0,160],"nice":false},"stack":null}}},
{"data":{"name":"boxes"},
"mark":{"type":"rect","fill":"white"},
"encoding":{
"x":{"field":"x1","type":"quantitative","scale":{"domain":[65,80],"nice":false,"zero":false}},
"x2":{"field":"x2"},
"y":{"field":"y1","type":"quantitative","scale":{"domain":[0,160],"nice":false}},
"y2":{"field":"y2"}}},
{"data":{"name":"labels"},
"mark":{"type":"text","font":"Liberation Sans","fontSize":35,"fontWeight":"bold","color":"black","align":"center","baseline":"alphabetic"},
"encoding":{
"x":{"field":"x","type":"quantitative","scale":{"domain":[65,80],"nice":false,"zero":false}},
"y":{"field":"y","type":"quantitative","scale":{"domain":[0,160],"nice":false}},
"text":{"field":"t"}}}
]
}
